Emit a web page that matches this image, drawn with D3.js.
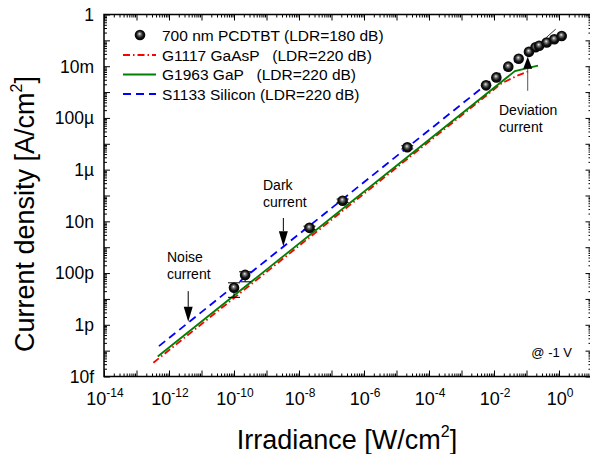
<!DOCTYPE html>
<html>
<head>
<meta charset="utf-8">
<script src="https://cdn.jsdelivr.net/npm/d3@7"></script>
<style>
body { margin: 0; background: #fff; }
text { font-family: Arial, "Liberation Sans", sans-serif; fill: #000; }
</style>
</head>
<body>
<svg id="chart" width="590" height="454"></svg>
<script>
// PCDTBT photodiode, measured points (irradiance W/cm2, current density A/cm2)
var pcdtbtE = [1.0e-10, 2.2e-10, 2.1e-8, 2.2e-7, 2.15e-5, 5.7e-3, 0.0118, 0.0275, 0.0575, 0.119, 0.19, 0.245, 0.417, 0.716, 1.21];
var pcdtbtJ = [2.7e-11, 8.5e-11, 5.6e-9, 6.3e-8, 7.3e-6, 1.82e-3, 3.7e-3, 9.6e-3, 0.0195, 0.036, 0.054, 0.062, 0.083, 0.11, 0.148];
var pcdtbtLo = [1.15e-11, 4.6e-11, 4.8e-9, 5.4e-8, 6.3e-6, null, null, null, null, null, null, null, null, null, null];
var pcdtbtHi = [4.2e-11, 1.12e-10, 6.5e-9, 7.3e-8, 8.4e-6, null, null, null, null, null, null, null, null, null, null];

// reference photodiodes
var gaaspE = [3.3e-13, 0.0173, 0.05, 0.128];
var gaaspJ = [3.4e-14, 0.0022, 0.0042, 0.0067];
var gapE = [4.5e-13, 0.044, 0.226];
var gapJ = [5.9e-14, 0.0065, 0.0105];
var siE = [4.9e-13, 0.055];
var siJ = [1.5e-13, 0.019];
var fitE = [0.41, 0.79];
var fitJ = [0.13, 0.27];

// axes
var xMajor = [1e-14, 1e-12, 1e-10, 1e-8, 1e-6, 1e-4, 1e-2, 1e0];
var xMajorExp = ["-14", "-12", "-10", "-8", "-6", "-4", "-2", "0"];
var yMajor = [1, 1e-2, 1e-4, 1e-6, 1e-8, 1e-10, 1e-12, 1e-14];
var yMajorLabels = ["1", "10m", "100\u00b5", "1\u00b5", "10n", "100p", "1p", "10f"];

var legendNames = ["700 nm PCDTBT (LDR=180 dB)", "G1117 GaAsP   (LDR=220 dB)", "G1963 GaP   (LDR=220 dB)", "S1133 Silicon (LDR=220 dB)"];

var svg = d3.select('#chart');
var pl = 104, pr = 591.5, pt = 14.5, pb = 376.5;

var x = d3.scaleLog().domain([1e-14, 10]).range([pl, pr]);
var y = d3.scaleLog().domain([1e-14, 1]).range([pb, pt]);

// tick values: every decade major, 2..9 minor
var xDec = d3.range(-14, 2).map(function(p){ return Math.pow(10, p); });
var yDec = d3.range(-14, 1).map(function(p){ return Math.pow(10, p); });
function minors(decs, max){
    var out = [];
    decs.forEach(function(d){
        for (var k = 2; k <= 9; k++) { if (d * k < max) out.push(d * k); }
    });
    return out;
}
var xMin = minors(xDec, 10), yMin = minors(yDec, 1);

function styleAxis(g){
    g.select('.domain').remove();
    g.selectAll('line').attr('stroke', '#000').attr('stroke-width', 1);
}

// bottom
svg.append('g').attr('transform', 'translate(0,' + pb + ')')
    .call(d3.axisBottom(x).tickValues(xMin).tickSize(-3).tickFormat('')).call(styleAxis);
svg.append('g').attr('transform', 'translate(0,' + pb + ')')
    .call(d3.axisBottom(x).tickValues(xDec).tickSize(-6).tickFormat('')).call(styleAxis);
// top
svg.append('g').attr('transform', 'translate(0,' + pt + ')')
    .call(d3.axisTop(x).tickValues(xMin).tickSize(-3).tickFormat('')).call(styleAxis);
svg.append('g').attr('transform', 'translate(0,' + pt + ')')
    .call(d3.axisTop(x).tickValues(xDec).tickSize(-6).tickFormat('')).call(styleAxis);
// left
svg.append('g').attr('transform', 'translate(' + pl + ',0)')
    .call(d3.axisLeft(y).tickValues(yMin).tickSize(-3).tickFormat('')).call(styleAxis);
svg.append('g').attr('transform', 'translate(' + pl + ',0)')
    .call(d3.axisLeft(y).tickValues(yDec).tickSize(-6).tickFormat('')).call(styleAxis);
// right
svg.append('g').attr('transform', 'translate(' + pr + ',0)')
    .call(d3.axisRight(y).tickValues(yMin).tickSize(-3).tickFormat('')).call(styleAxis);
svg.append('g').attr('transform', 'translate(' + pr + ',0)')
    .call(d3.axisRight(y).tickValues(yDec).tickSize(-6).tickFormat('')).call(styleAxis);

svg.append('rect').attr('x', pl).attr('y', pt)
    .attr('width', pr - pl).attr('height', pb - pt)
    .attr('fill', 'none').attr('stroke', '#000').attr('stroke-width', 1.5);

// tick labels
var xl = svg.append('g').selectAll('text').data(xMajor).enter().append('text')
    .attr('x', function(d){ return x(d) + 1; })
    .attr('y', 405)
    .attr('text-anchor', 'middle')
    .style('font-size', '18px');
xl.append('tspan').text('10');
xl.append('tspan').attr('dy', -8).style('font-size', '12px').text(function(d, i){ return xMajorExp[i]; });

svg.append('g').selectAll('text').data(yMajor).enter().append('text')
    .attr('x', 94)
    .attr('y', function(d){ return y(d); })
    .attr('dy', '0.36em')
    .attr('text-anchor', 'end')
    .style('font-size', '17.5px')
    .text(function(d, i){ return yMajorLabels[i]; });

// axis titles
var xt = svg.append('text').attr('x', 347).attr('y', 449).attr('text-anchor', 'middle').style('font-size', '27px');
xt.append('tspan').text('Irradiance [W/cm');
xt.append('tspan').attr('dy', -12).style('font-size', '16px').text('2');
xt.append('tspan').attr('dy', 12).text(']');

var yt = svg.append('text').attr('transform', 'translate(34,214) rotate(-90)').attr('text-anchor', 'middle').style('font-size', '27px');
yt.append('tspan').text('Current density [A/cm');
yt.append('tspan').attr('dy', -12).style('font-size', '16px').text('2');
yt.append('tspan').attr('dy', 12).text(']');

// lines
var line = d3.line().x(function(d){ return x(d[0]); }).y(function(d){ return y(d[1]); });
function pairs(a, b){ return a.map(function(v, i){ return [v, b[i]]; }); }

svg.append('path').datum(pairs(siE, siJ)).attr('d', line)
    .attr('fill', 'none').attr('stroke', '#0000ff').attr('stroke-width', 1.8).attr('stroke-dasharray', '8,5');
svg.append('path').datum(pairs(gaaspE, gaaspJ)).attr('d', line)
    .attr('fill', 'none').attr('stroke', '#ff0000').attr('stroke-width', 1.8).attr('stroke-dasharray', '7,3,1.5,3');
svg.append('path').datum(pairs(gapE, gapJ)).attr('d', line)
    .attr('fill', 'none').attr('stroke', '#008000').attr('stroke-width', 1.8);
svg.append('path').datum(pairs(fitE, fitJ)).attr('d', line)
    .attr('fill', 'none').attr('stroke', '#000').attr('stroke-width', 0.8);

// sphere markers
var defs = svg.append('defs');
var grad = defs.append('radialGradient').attr('id', 'ball').attr('cx', '50%').attr('cy', '50%').attr('r', '55%').attr('fx', '45%').attr('fy', '38%');
grad.append('stop').attr('offset', '0%').attr('stop-color', '#f0f0f0');
grad.append('stop').attr('offset', '25%').attr('stop-color', '#777');
grad.append('stop').attr('offset', '60%').attr('stop-color', '#111');
grad.append('stop').attr('offset', '100%').attr('stop-color', '#000');

var pts = pcdtbtE.map(function(e, i){ return {e: e, j: pcdtbtJ[i], lo: pcdtbtLo[i], hi: pcdtbtHi[i]}; });
var eb = svg.append('g').selectAll('g').data(pts.filter(function(d){ return d.lo !== null; })).enter().append('g')
    .attr('stroke', '#000').attr('stroke-width', 1);
eb.append('line').attr('x1', function(d){ return x(d.e); }).attr('x2', function(d){ return x(d.e); })
    .attr('y1', function(d){ return y(d.lo); }).attr('y2', function(d){ return y(d.hi); });
eb.append('line').attr('x1', function(d){ return x(d.e) - 6; }).attr('x2', function(d){ return x(d.e) + 6; })
    .attr('y1', function(d){ return y(d.lo); }).attr('y2', function(d){ return y(d.lo); });
eb.append('line').attr('x1', function(d){ return x(d.e) - 6; }).attr('x2', function(d){ return x(d.e) + 6; })
    .attr('y1', function(d){ return y(d.hi); }).attr('y2', function(d){ return y(d.hi); });

svg.append('g').selectAll('circle').data(pts).enter().append('circle')
    .attr('cx', function(d){ return x(d.e); })
    .attr('cy', function(d){ return y(d.j); })
    .attr('r', 5.3)
    .attr('fill', 'url(#ball)');

// annotations
function arrow(e, jTail, jTip, head, color){
    var xp = x(e), yTail = y(jTail), yTip = y(jTip);
    var dir = yTip > yTail ? 1 : -1;
    svg.append('line').attr('x1', xp).attr('x2', xp).attr('y1', yTail).attr('y2', yTip - dir * head)
        .attr('stroke', color).attr('stroke-width', 1);
    svg.append('path')
        .attr('d', 'M' + xp + ',' + yTip + 'L' + (xp - 4.5) + ',' + (yTip - dir * head) + 'L' + (xp + 4.5) + ',' + (yTip - dir * head) + 'Z')
        .attr('fill', '#000');
}
arrow(3.9e-12, 2e-11, 1.3e-12, 15, '#000');
arrow(3.3e-9, 1.35e-8, 1.1e-9, 15, '#000');
arrow(0.109, 1.12e-3, 0.0233, 12, '#555');

function label(xp, yp, lines){
    var t = svg.append('text').attr('x', xp).attr('y', yp).style('font-size', '14px');
    lines.forEach(function(s, i){ t.append('tspan').attr('x', xp).attr('dy', i ? 17 : 0).text(s); });
}
label(167, 262, ['Noise', 'current']);
label(263, 190, ['Dark', 'current']);
label(499, 115, ['Deviation', 'current']);
svg.append('text').attr('x', 572).attr('y', 357).attr('text-anchor', 'end').style('font-size', '13px').text('@ -1 V');

// legend
var lg = svg.append('g');
var rowY = [35, 55, 74.5, 94];
lg.append('circle').attr('cx', 140).attr('cy', rowY[0]).attr('r', 5.3).attr('fill', 'url(#ball)');
lg.append('line').attr('x1', 123).attr('x2', 156).attr('y1', rowY[1]).attr('y2', rowY[1])
    .attr('stroke', '#ff0000').attr('stroke-width', 1.8).attr('stroke-dasharray', '7,3,1.5,3');
lg.append('line').attr('x1', 123).attr('x2', 156).attr('y1', rowY[2]).attr('y2', rowY[2])
    .attr('stroke', '#008000').attr('stroke-width', 1.8);
lg.append('line').attr('x1', 123).attr('x2', 156).attr('y1', rowY[3]).attr('y2', rowY[3])
    .attr('stroke', '#0000ff').attr('stroke-width', 1.8).attr('stroke-dasharray', '8,5');
lg.selectAll('text').data(legendNames).enter().append('text')
    .attr('x', 162).attr('y', function(d, i){ return rowY[i]; }).attr('dy', '0.36em')
    .style('font-size', '15.5px').style('white-space', 'pre')
    .text(function(d){ return d; });
</script>
</body>
</html>
